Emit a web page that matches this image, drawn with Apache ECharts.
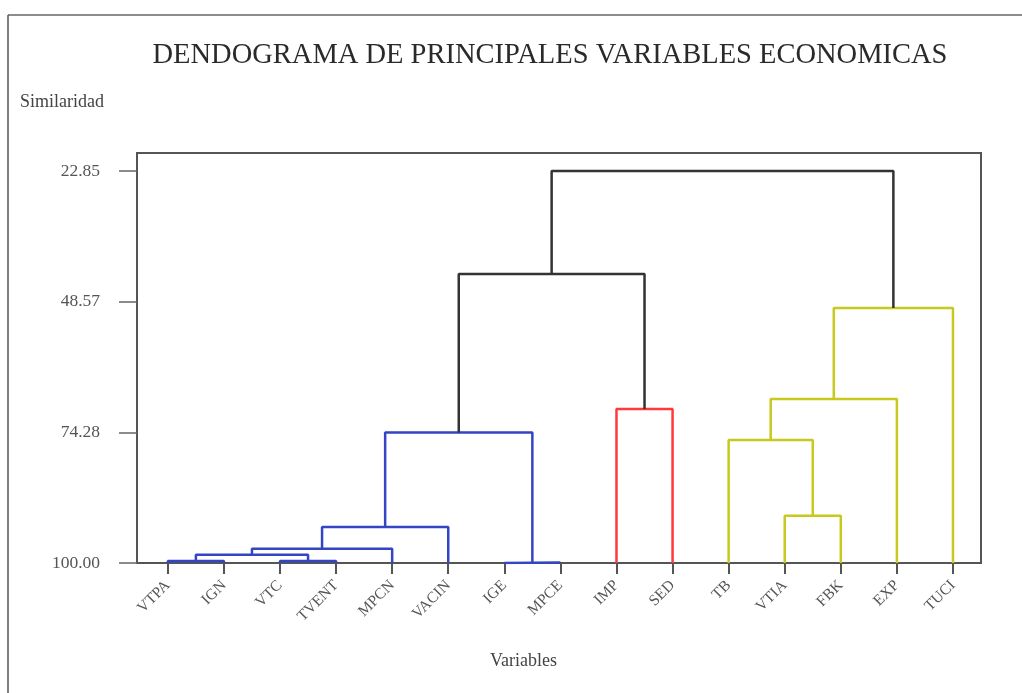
<!DOCTYPE html>
<html lang="es">
<head>
	<meta charset="UTF-8">
	<title>Dendograma</title>
	<style>
	body, div {
		margin: 0;
		padding: 0;
	}
	#chart {
		width: 1022px;
		height: 693px;
		background: #fff;
	}
	</style>
</head>
<body>
	<div id="chart"></div>

	<script src="https://cdn.jsdelivr.net/npm/echarts@6/dist/echarts.min.js"></script>
	<script>

	// hojas del dendograma (en orden de dibujo)
	var variables = ['VTPA', 'IGN', 'VTC', 'TVENT', 'MPCN', 'VACIN', 'IGE', 'MPCE',
		'IMP', 'SED', 'TB', 'VTIA', 'FBK', 'EXP', 'TUCI'];

	// uniones: nodo 15 en adelante, en el orden de la lista
	var unionIzq = [0, 2, 15, 17, 18, 6, 19, 8, 21, 11, 10, 25, 26, 23];
	var unionDer = [1, 3, 16, 4, 5, 7, 20, 9, 22, 12, 24, 13, 14, 27];
	var similaridad = [99.6, 99.6, 98.4, 97.2, 92.9, 99.9, 74.3, 69.7, 43.1, 90.7, 75.8, 67.7, 49.8, 22.85];
	var grupo = ['azul', 'azul', 'azul', 'azul', 'azul', 'azul', 'azul', 'rojo', 'negro',
		'amarillo', 'amarillo', 'amarillo', 'amarillo', 'negro'];

	// marcas del eje
	var marcasY = [22.85, 48.57, 74.28, 100.00];

	var colores = {
		azul: '#3344c4',
		rojo: '#ff3a3a',
		amarillo: '#c8c81e',
		negro: '#333333'
	};
	var serif = '"Liberation Serif", "DejaVu Serif", serif';

	// posicion y altura de cada nodo
	var posX = [], altura = [];
	for (var i = 0; i < variables.length; i++) {
		posX.push(i);
		altura.push(100);
	}

	var series = [];
	for (var m = 0; m < unionIzq.length; m++) {
		var a = unionIzq[m], b = unionDer[m], h = similaridad[m];
		series.push({
			type: 'line',
			silent: true,
			symbol: 'none',
			z: 5,
			lineStyle: { color: colores[grupo[m]], width: 2.5 },
			data: [[posX[a], altura[a]], [posX[a], h], [posX[b], h], [posX[b], altura[b]]]
		});
		posX.push((posX[a] + posX[b]) / 2);
		altura.push(h);
	}

	var marcasX = [];
	for (var k = 0; k < variables.length; k++) marcasX.push(k);

	var chart = echarts.init(document.getElementById('chart'));
	chart.setOption({
		animation: false,
		title: {
			text: 'DENDOGRAMA DE PRINCIPALES VARIABLES ECONOMICAS',
			left: 545,
			top: 36,
			textAlign: 'center',
			textStyle: { fontFamily: serif, fontSize: 28.5, fontWeight: 'normal', color: '#2a2a2a' }
		},
		graphic: [
			{ type: 'line', shape: { x1: 8, y1: 15, x2: 1022, y2: 15 }, style: { stroke: '#666', lineWidth: 1.5 } },
			{ type: 'line', shape: { x1: 8, y1: 15, x2: 8, y2: 693 }, style: { stroke: '#555', lineWidth: 1.5 } },
			{ type: 'text', left: 20, top: 93, style: { text: 'Similaridad', font: '18px ' + serif, fill: '#444' } },
			{ type: 'text', left: 490, top: 652, style: { text: 'Variables', font: '18px ' + serif, fill: '#444' } }
		],
		grid: {
			show: true,
			left: 137,
			right: 41,
			top: 153,
			bottom: 130,
			borderColor: '#555',
			borderWidth: 2
		},
		xAxis: {
			type: 'value',
			min: -0.55,
			max: 14.5,
			splitLine: { show: false },
			axisLine: { onZero: false, lineStyle: { color: '#555', width: 2 } },
			axisTick: { customValues: marcasX, length: 11, lineStyle: { color: '#555', width: 2 } },
			axisLabel: {
				customValues: marcasX,
				rotate: 45,
				margin: 20,
				fontFamily: serif,
				fontSize: 15.5,
				color: '#555',
				formatter: function(v) { return variables[Math.round(v)]; }
			}
		},
		yAxis: {
			type: 'value',
			inverse: true,
			min: 19.3,
			max: 100,
			splitLine: { show: false },
			axisLine: { onZero: false, lineStyle: { color: '#555', width: 2 } },
			axisTick: { customValues: marcasY, length: 18, lineStyle: { color: '#666', width: 1.5 } },
			axisLabel: {
				customValues: marcasY,
				margin: 37,
				fontFamily: serif,
				fontSize: 17.5,
				color: '#555',
				formatter: function(v) { return v.toFixed(2); }
			}
		},
		series: series
	});
	</script>
</body>
</html>
